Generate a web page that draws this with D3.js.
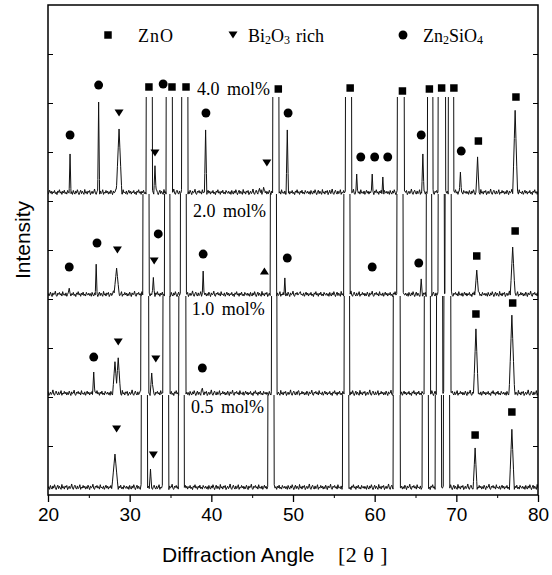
<!DOCTYPE html>
<html><head><meta charset="utf-8">
<script src="https://cdn.jsdelivr.net/npm/d3@7"></script>
<style>body{margin:0;background:#fff}</style>
</head><body>
<svg id="chart" width="552" height="575"></svg>
<script>
// ---------- data ----------
const angleTicks = [20, 30, 40, 50, 60, 70, 80];
const angleMinorTicks = [25, 35, 45, 55, 65, 75];
const intensityTicks = [1000, 2000, 3000, 4000, 5000, 6000, 7000, 8000, 9000];
const samples = ["0.5 mol%", "1.0 mol%", "2.0 mol%", "4.0 mol%"];
const baselines = [100, 2020, 4040, 6120];      // counts offset of each stacked pattern
const clipTops = [2041, 4061, 6143, 8120];      // counts where each trace is cut
const TALL = 30000;
// peaks: [2theta, height above baseline (counts), half width (deg)]
const peaks05 = [[28.2,735,0.4],[31.8,TALL,0.4],[32.55,430,0.15],[34.4,TALL,0.4],[36.25,TALL,0.3],[36.4,TALL,0.3],
  [47.3,TALL,0.4],[56.45,TALL,0.4],[62.7,TALL,0.45],[66.2,TALL,0.4],[67.8,TALL,0.4],[68.8,TALL,0.4],[72.3,860,0.25],[76.8,1240,0.3]];
const peaks10 = [[25.6,490,0.15],[28.2,700,0.3],[28.6,780,0.3],[31.7,TALL,0.35],[31.85,TALL,0.35],[32.0,TALL,0.35],[32.7,470,0.2],
  [34.5,TALL,0.45],[36.3,TALL,0.3],[36.45,TALL,0.3],[36.6,TALL,0.3],[38.9,160,0.12],[47.7,TALL,0.35],[50.6,100,0.1],
  [56.6,TALL,0.35],[62.7,TALL,0.45],[66.45,TALL,0.4],[67.95,TALL,0.4],[68.9,TALL,0.45],[72.4,1370,0.3],[76.8,1650,0.35]];
const peaks20 = [[22.6,180,0.1],[25.9,670,0.12],[28.4,590,0.35],[32.0,TALL,0.4],[32.9,400,0.15],[34.6,TALL,0.35],[36.5,TALL,0.3],
  [36.65,TALL,0.3],[39.0,530,0.12],[47.6,TALL,0.4],[49.0,390,0.12],[50.8,80,0.1],[56.6,TALL,0.4],[63.1,TALL,0.4],[65.7,370,0.15],
  [66.65,TALL,0.35],[68.15,TALL,0.4],[69.0,TALL,0.4],[72.5,550,0.25],[76.9,1020,0.3]];
const peaks40 = [[22.7,840,0.12],[26.2,1900,0.12],[28.7,1350,0.35],[32.4,TALL,0.4],[33.1,600,0.15],[34.75,TALL,0.3],[34.9,TALL,0.35],
  [36.7,TALL,0.35],[36.85,TALL,0.3],[39.3,1330,0.15],[45.9,140,0.15],[46.4,160,0.15],[47.9,TALL,0.4],[49.3,1330,0.15],[54.5,100,0.15],
  [56.8,TALL,0.4],[57.8,430,0.12],[59.7,430,0.12],[61.0,370,0.12],[63.2,TALL,0.45],[65.9,840,0.15],[66.8,TALL,0.35],[68.1,TALL,0.35],
  [68.4,TALL,0.3],[69.35,TALL,0.35],[70.5,470,0.15],[72.6,780,0.2],[77.2,1730,0.3]];
const baselineNoise = [30,70,15,95,45,20,85,40,110,55,10,60,100,30,80,45,15,115,40,70,20,85,55,95,10,45,80,30,60,125,40,15,70,100,45,20,85,30,
  55,110,15,60,40,95,45,80,20,70,30,100,55,10,85,45,60,120,30,15,80,55,95,40,70,20,110,45,60,30,85,15,55,100,40,80,20,70,45,95,30,60,10,85,55,
  110,40,70,15,80,45,100,30,60,20,95,55,40,80];
// phase markers: [2theta, counts]
const znoMarks = [[32.36,8327],[35.18,8327],[36.9,8327],[48.2,8286],[57.0,8306],[63.4,8245],[66.7,8286],[68.2,8306],[69.7,8306],[72.7,7224],[77.3,8122],
  [72.5,4878],[77.2,5388],[72.4,3694],[76.9,3918],[72.3,1224],[76.8,1694]];
const biMarks = [[28.7,7796],[33.1,6980],[46.8,6776],[28.5,5000],[33.0,4776],[28.6,3122],[33.2,2776],[28.4,1347],[32.9,816]];
const biUpMarks = [[46.5,4571]];
const silMarks = [[22.7,7347],[26.2,8367],[34.1,8388],[39.34,7796],[49.4,7796],[58.3,6898],[60.0,6898],[61.6,6898],[65.7,7347],[70.6,7020],
  [22.6,4653],[26.0,5143],[33.5,5327],[39.0,4918],[49.3,4837],[59.7,4653],[65.4,4735],[25.6,2816],[38.9,2592]];
const sampleLabelPos = [[37.5,1673],[37.6,3673],[37.75,5673],[38.24,8163]];
const allPeaks = [peaks05, peaks10, peaks20, peaks40];

// ---------- chart ----------
const svg = d3.select("#chart");
const L = 48, R = 538, T = 5, B = 495;
const x = d3.scaleLinear().domain([20, 80]).range([L, R]);
const y = d3.scaleLinear().domain([0, 10000]).range([B, T]);
const sans = "'Liberation Sans', Arial, sans-serif";
const serif = "'Liberation Serif', 'Times New Roman', serif";

function trace(peaks, base, offset) {
  const step = 0.1;
  const grid = d3.range(20, 80 + 1e-9, step);
  const xs = new Set(grid.map(v => +v.toFixed(3)));
  peaks.forEach(p => { xs.add(p[0] - p[2]); xs.add(p[0]); xs.add(p[0] + p[2]); });
  const sorted = Array.from(xs).filter(v => v >= 20 && v <= 80).sort((a, b) => a - b);
  return sorted.map(a => {
    const gi = Math.round((a - 20) / step);
    let v = baselineNoise[(gi + offset) % baselineNoise.length];
    peaks.forEach(p => {
      const d = Math.abs(a - p[0]);
      if (d < p[2]) v = Math.max(v, p[1] * (1 - d / p[2]));
    });
    return [a, base + v];
  });
}

const defs = svg.append("defs");
const line = d3.line().x(d => x(d[0])).y(d => y(d[1]));
allPeaks.forEach((pk, i) => {
  defs.append("clipPath").attr("id", "clip" + i).append("rect")
    .attr("x", L).attr("width", R - L)
    .attr("y", y(clipTops[i])).attr("height", B - y(clipTops[i]));
  svg.append("path").datum(trace(pk, baselines[i], i * 23))
    .attr("clip-path", `url(#clip${i})`)
    .attr("d", line).attr("fill", "none").attr("stroke", "#111").attr("stroke-width", 1);
});

// frame
svg.append("rect").attr("x", L).attr("y", T).attr("width", R - L).attr("height", B - T)
  .attr("fill", "none").attr("stroke", "#000").attr("stroke-width", 1.5);

// x axis
const xAxis = svg.append("g").attr("transform", `translate(0,${B})`)
  .call(d3.axisBottom(x).tickValues(angleTicks).tickSize(7).tickPadding(6).tickFormat(d3.format("d")));
xAxis.select(".domain").remove();
xAxis.selectAll("line").attr("stroke", "#000").attr("stroke-width", 1.3);
xAxis.selectAll("text").attr("font-family", sans).attr("font-size", 19).attr("fill", "#000");
svg.append("g").attr("transform", `translate(0,${B})`)
  .call(d3.axisBottom(x).tickValues(angleMinorTicks).tickSize(3).tickFormat(""))
  .call(g => g.select(".domain").remove()).selectAll("line").attr("stroke", "#000");

// y axis ticks (inward, both sides, no labels)
const yl = svg.append("g").attr("transform", `translate(${L},0)`)
  .call(d3.axisRight(y).tickValues(intensityTicks).tickSize(5).tickFormat(""));
yl.select(".domain").remove(); yl.selectAll("line").attr("stroke", "#000");
const yr = svg.append("g").attr("transform", `translate(${R},0)`)
  .call(d3.axisLeft(y).tickValues(intensityTicks).tickSize(5).tickFormat(""));
yr.select(".domain").remove(); yr.selectAll("line").attr("stroke", "#000");

// markers
const sq = d3.symbol().type(d3.symbolSquare).size(56);
const circ = d3.symbol().type(d3.symbolCircle).size(62);
const triDown = "M-4.5,-3.5L4.5,-3.5L0,3.5Z";
const triUp = "M-4.5,3.5L4.5,3.5L0,-3.5Z";
svg.selectAll(".zno").data(znoMarks).join("path").attr("d", sq())
  .attr("transform", d => `translate(${x(d[0])},${y(d[1])})`).attr("fill", "#000");
svg.selectAll(".sil").data(silMarks).join("path").attr("d", circ())
  .attr("transform", d => `translate(${x(d[0])},${y(d[1])})`).attr("fill", "#000");
svg.selectAll(".bi").data(biMarks).join("path").attr("d", triDown)
  .attr("transform", d => `translate(${x(d[0])},${y(d[1])})`).attr("fill", "#000");
svg.selectAll(".biu").data(biUpMarks).join("path").attr("d", triUp)
  .attr("transform", d => `translate(${x(d[0])},${y(d[1])})`).attr("fill", "#000");

// sample labels
svg.selectAll(".lab").data(samples).join("text")
  .attr("x", (d, i) => x(sampleLabelPos[i][0])).attr("y", (d, i) => y(sampleLabelPos[i][1]))
  .attr("font-family", serif).attr("font-size", 18).attr("word-spacing", 3).attr("fill", "#000").text(d => d);

// legend
const lg = svg.append("g").attr("font-family", serif).attr("font-size", 18).attr("fill", "#000");
lg.append("path").attr("d", sq()).attr("transform", "translate(108,35)");
lg.append("text").attr("x", 138).attr("y", 42).attr("letter-spacing", 1).text("ZnO");
lg.append("path").attr("d", triDown).attr("transform", "translate(233,35)");
const t2 = lg.append("text").attr("x", 248).attr("y", 42);
t2.append("tspan").text("Bi");
t2.append("tspan").attr("font-size", 12).attr("dy", 2).text("2");
t2.append("tspan").attr("dy", -2).text("O");
t2.append("tspan").attr("font-size", 12).attr("dy", 2).text("3");
t2.append("tspan").attr("dy", -2).attr("dx", 6).text("rich");
lg.append("path").attr("d", circ()).attr("transform", "translate(403,35)");
const t3 = lg.append("text").attr("x", 423).attr("y", 42);
t3.append("tspan").text("Zn");
t3.append("tspan").attr("font-size", 12).attr("dy", 2).text("2");
t3.append("tspan").attr("dy", -2).text("SiO");
t3.append("tspan").attr("font-size", 12).attr("dy", 2).text("4");

// axis titles
svg.append("text").attr("x", 162).attr("y", 562).attr("font-family", sans).attr("font-size", 21)
  .attr("fill", "#000").text("Diffraction Angle");
svg.append("text").attr("x", 338).attr("y", 562).attr("font-family", serif).attr("font-size", 22)
  .attr("letter-spacing", 0.5).attr("fill", "#000").text("[2 θ ]");
svg.append("text").attr("transform", "translate(30,240) rotate(-90)").attr("text-anchor", "middle")
  .attr("font-family", sans).attr("font-size", 21).attr("fill", "#000").text("Intensity");
</script>
</body></html>
